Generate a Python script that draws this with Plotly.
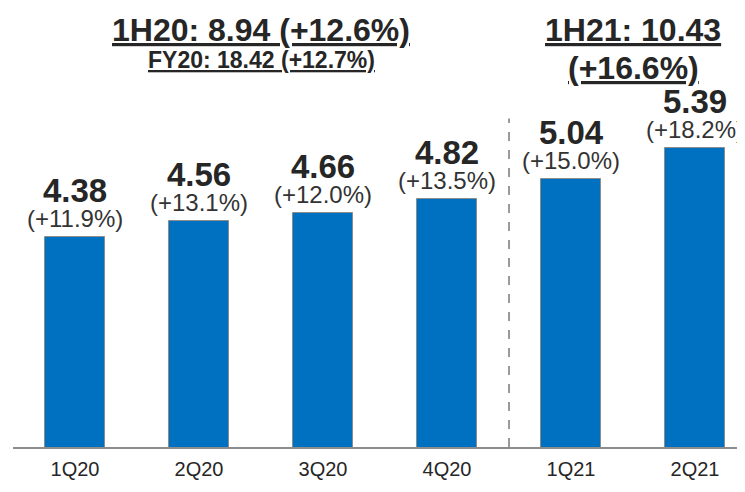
import plotly.graph_objects as go

# dados do gráfico (trimestres)
trimestres = ["1Q20", "2Q20", "3Q20", "4Q20", "1Q21", "2Q21"]
valores = [4.38, 4.56, 4.66, 4.82, 5.04, 5.39]
variacoes = ["(+11.9%)", "(+13.1%)", "(+12.0%)", "(+13.5%)", "(+15.0%)", "(+18.2%)"]

# totais de semestre / ano
titulo_1h20 = "1H20: 8.94 (+12.6%)"
titulo_fy20 = "FY20: 18.42 (+12.7%)"
titulo_1h21 = "1H21: 10.43"
titulo_1h21_var = "(+16.6%)"

AZUL = "#0070C0"
TEXTO = "#262626"
FONTE = "Liberation Sans, Arial, sans-serif"

idx = list(range(len(trimestres)))

fig = go.Figure()

fig.add_trace(go.Bar(
    x=idx,
    y=valores,
    width=0.49,
    marker=dict(color=AZUL, line=dict(color="#8c8c8c", width=1)),
    hoverinfo="skip",
    showlegend=False,
))

# rótulos: valor em negrito e variação logo abaixo
for i, (v, p) in enumerate(zip(valores, variacoes)):
    fig.add_annotation(
        x=i, y=v, text=f"<b>{v:.2f}</b>", showarrow=False,
        yanchor="bottom", yshift=26,
        font=dict(size=33, color=TEXTO, family=FONTE),
    )
    fig.add_annotation(
        x=i, y=v, text=p, showarrow=False,
        yanchor="bottom", yshift=3,
        font=dict(size=24, color="#333333", family=FONTE),
    )

# títulos de semestre
fig.add_annotation(
    x=1.5, y=0.950, yref="paper", text=f"<b><u>{titulo_1h20}</u></b>",
    showarrow=False, yanchor="middle",
    font=dict(size=32, color=TEXTO, family=FONTE),
)
fig.add_annotation(
    x=1.5, y=0.882, yref="paper", text=f"<b><u>{titulo_fy20}</u></b>",
    showarrow=False, yanchor="middle",
    font=dict(size=23, color=TEXTO, family=FONTE),
)
fig.add_annotation(
    x=4.5, y=0.950, yref="paper", text=f"<b><u>{titulo_1h21}</u></b>",
    showarrow=False, yanchor="middle",
    font=dict(size=32, color=TEXTO, family=FONTE),
)
fig.add_annotation(
    x=4.5, y=0.863, yref="paper", text=f"<b><u>{titulo_1h21_var}</u></b>",
    showarrow=False, yanchor="middle",
    font=dict(size=32, color=TEXTO, family=FONTE),
)

# separador entre 2020 e 2021
fig.add_shape(
    type="line", x0=3.5, x1=3.5, y0=2, y1=5.73,
    line=dict(color="#999999", width=2, dash="dash"),
)

# a página tem 8px de margem no body: figura reduzida para compensar
fig.update_layout(
    width=737,
    height=484,
    paper_bgcolor="white",
    plot_bgcolor="white",
    margin=dict(l=5, r=0, t=0, b=45),
    bargap=0,
    font=dict(family=FONTE, color=TEXTO),
    xaxis=dict(
        range=[-0.5, 5.403],
        tickmode="array",
        tickvals=idx,
        ticktext=trimestres,
        showgrid=False,
        zeroline=False,
        showline=True,
        linecolor="#8c8c8c",
        linewidth=2,
        ticks="",
        ticklabelstandoff=3,
        tickfont=dict(size=20, color=TEXTO),
    ),
    yaxis=dict(
        range=[2, 6.983],
        visible=False,
        showgrid=False,
        zeroline=False,
    ),
)

fig.write_html("out.html")
